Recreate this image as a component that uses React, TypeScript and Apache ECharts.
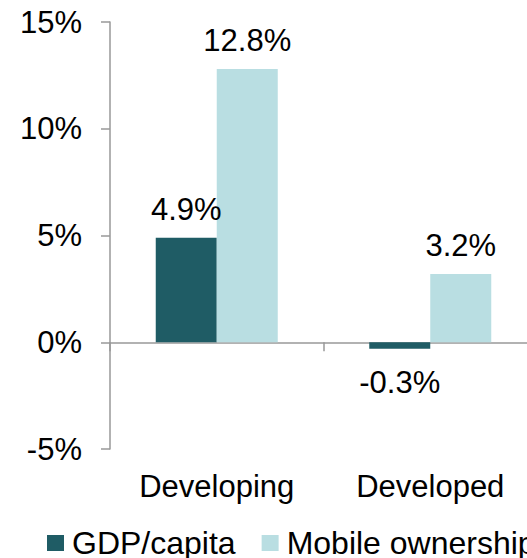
import React, { useEffect, useRef } from "react";
import * as echarts from "echarts";

const categories = ["Developing", "Developed"];
const gdpPerCapita = [4.9, -0.3];
const mobileOwnership = [12.8, 3.2];
const seriesNames = ["GDP/capita", "Mobile ownership"];
const yMin = -5;
const yMax = 15;
const yStep = 5;

const DARK = "#1F5C65";
const LIGHT = "#B9DEE2";
const AXIS = "#999999";
const FONT = "Liberation Sans, Arial, sans-serif";
const FS = 31;

function barData(values: number[]) {
  return values.map((v) => ({
    value: v,
    label: v >= 0 ? { position: "top", distance: 13 } : { position: "bottom", distance: 18 },
  }));
}

export default function App() {
  const ref = useRef<HTMLDivElement>(null);

  useEffect(() => {
    if (!ref.current) return;
    const chart = echarts.init(ref.current, null, { renderer: "svg" });
    const label = {
      show: true,
      color: "#000",
      fontSize: FS,
      fontFamily: FONT,
      formatter: (p: any) => `${p.value}%`,
    };
    chart.setOption({
      animation: false,
      textStyle: { fontFamily: FONT },
      grid: {
        left: 110,
        top: 22,
        width: 427,
        height: 427,
        containLabel: false,
        outerBoundsMode: "none",
      },
      legend: {
        data: seriesNames,
        left: 47,
        top: 527,
        padding: 0,
        width: 900,
        itemWidth: 17,
        itemHeight: 16,
        itemGap: 26,
        icon: "rect",
        textStyle: { fontSize: 32, color: "#000", fontFamily: FONT, padding: [0, 0, 0, 3] },
      },
      xAxis: [
        {
          // category labels along the bottom edge of the plot
          type: "category",
          data: categories,
          position: "bottom",
          axisLine: { show: false, onZero: false },
          axisTick: { show: false },
          axisLabel: { color: "#000", fontSize: FS, fontFamily: FONT, margin: 22 },
          splitLine: { show: false },
        },
        {
          // baseline at zero with category boundary ticks
          type: "category",
          data: categories,
          position: "bottom",
          axisLine: { show: true, onZero: true, lineStyle: { color: AXIS, width: 1.5 } },
          axisTick: { show: true, length: 9, lineStyle: { color: AXIS, width: 1.5 } },
          axisLabel: { show: false },
          splitLine: { show: false },
        },
      ],
      yAxis: {
        type: "value",
        min: yMin,
        max: yMax,
        interval: yStep,
        axisLine: { show: true, lineStyle: { color: AXIS, width: 1.5 } },
        axisTick: { show: true, length: 9, lineStyle: { color: AXIS, width: 1.5 } },
        axisLabel: { color: "#000", fontSize: FS, fontFamily: FONT, margin: 28, formatter: "{value}%" },
        splitLine: { show: false },
      },
      series: [
        {
          name: seriesNames[0],
          type: "bar",
          data: barData(gdpPerCapita),
          barWidth: 61,
          barGap: "0%",
          itemStyle: { color: DARK },
          label,
        },
        {
          name: seriesNames[1],
          type: "bar",
          data: barData(mobileOwnership),
          barWidth: 61,
          barGap: "0%",
          itemStyle: { color: LIGHT },
          label,
        },
      ],
    });
    return () => chart.dispose();
  }, []);

  return (
    <div
      ref={ref}
      style={{ position: "fixed", left: 0, top: 0, width: 527, height: 558, background: "#fff" }}
    />
  );
}
